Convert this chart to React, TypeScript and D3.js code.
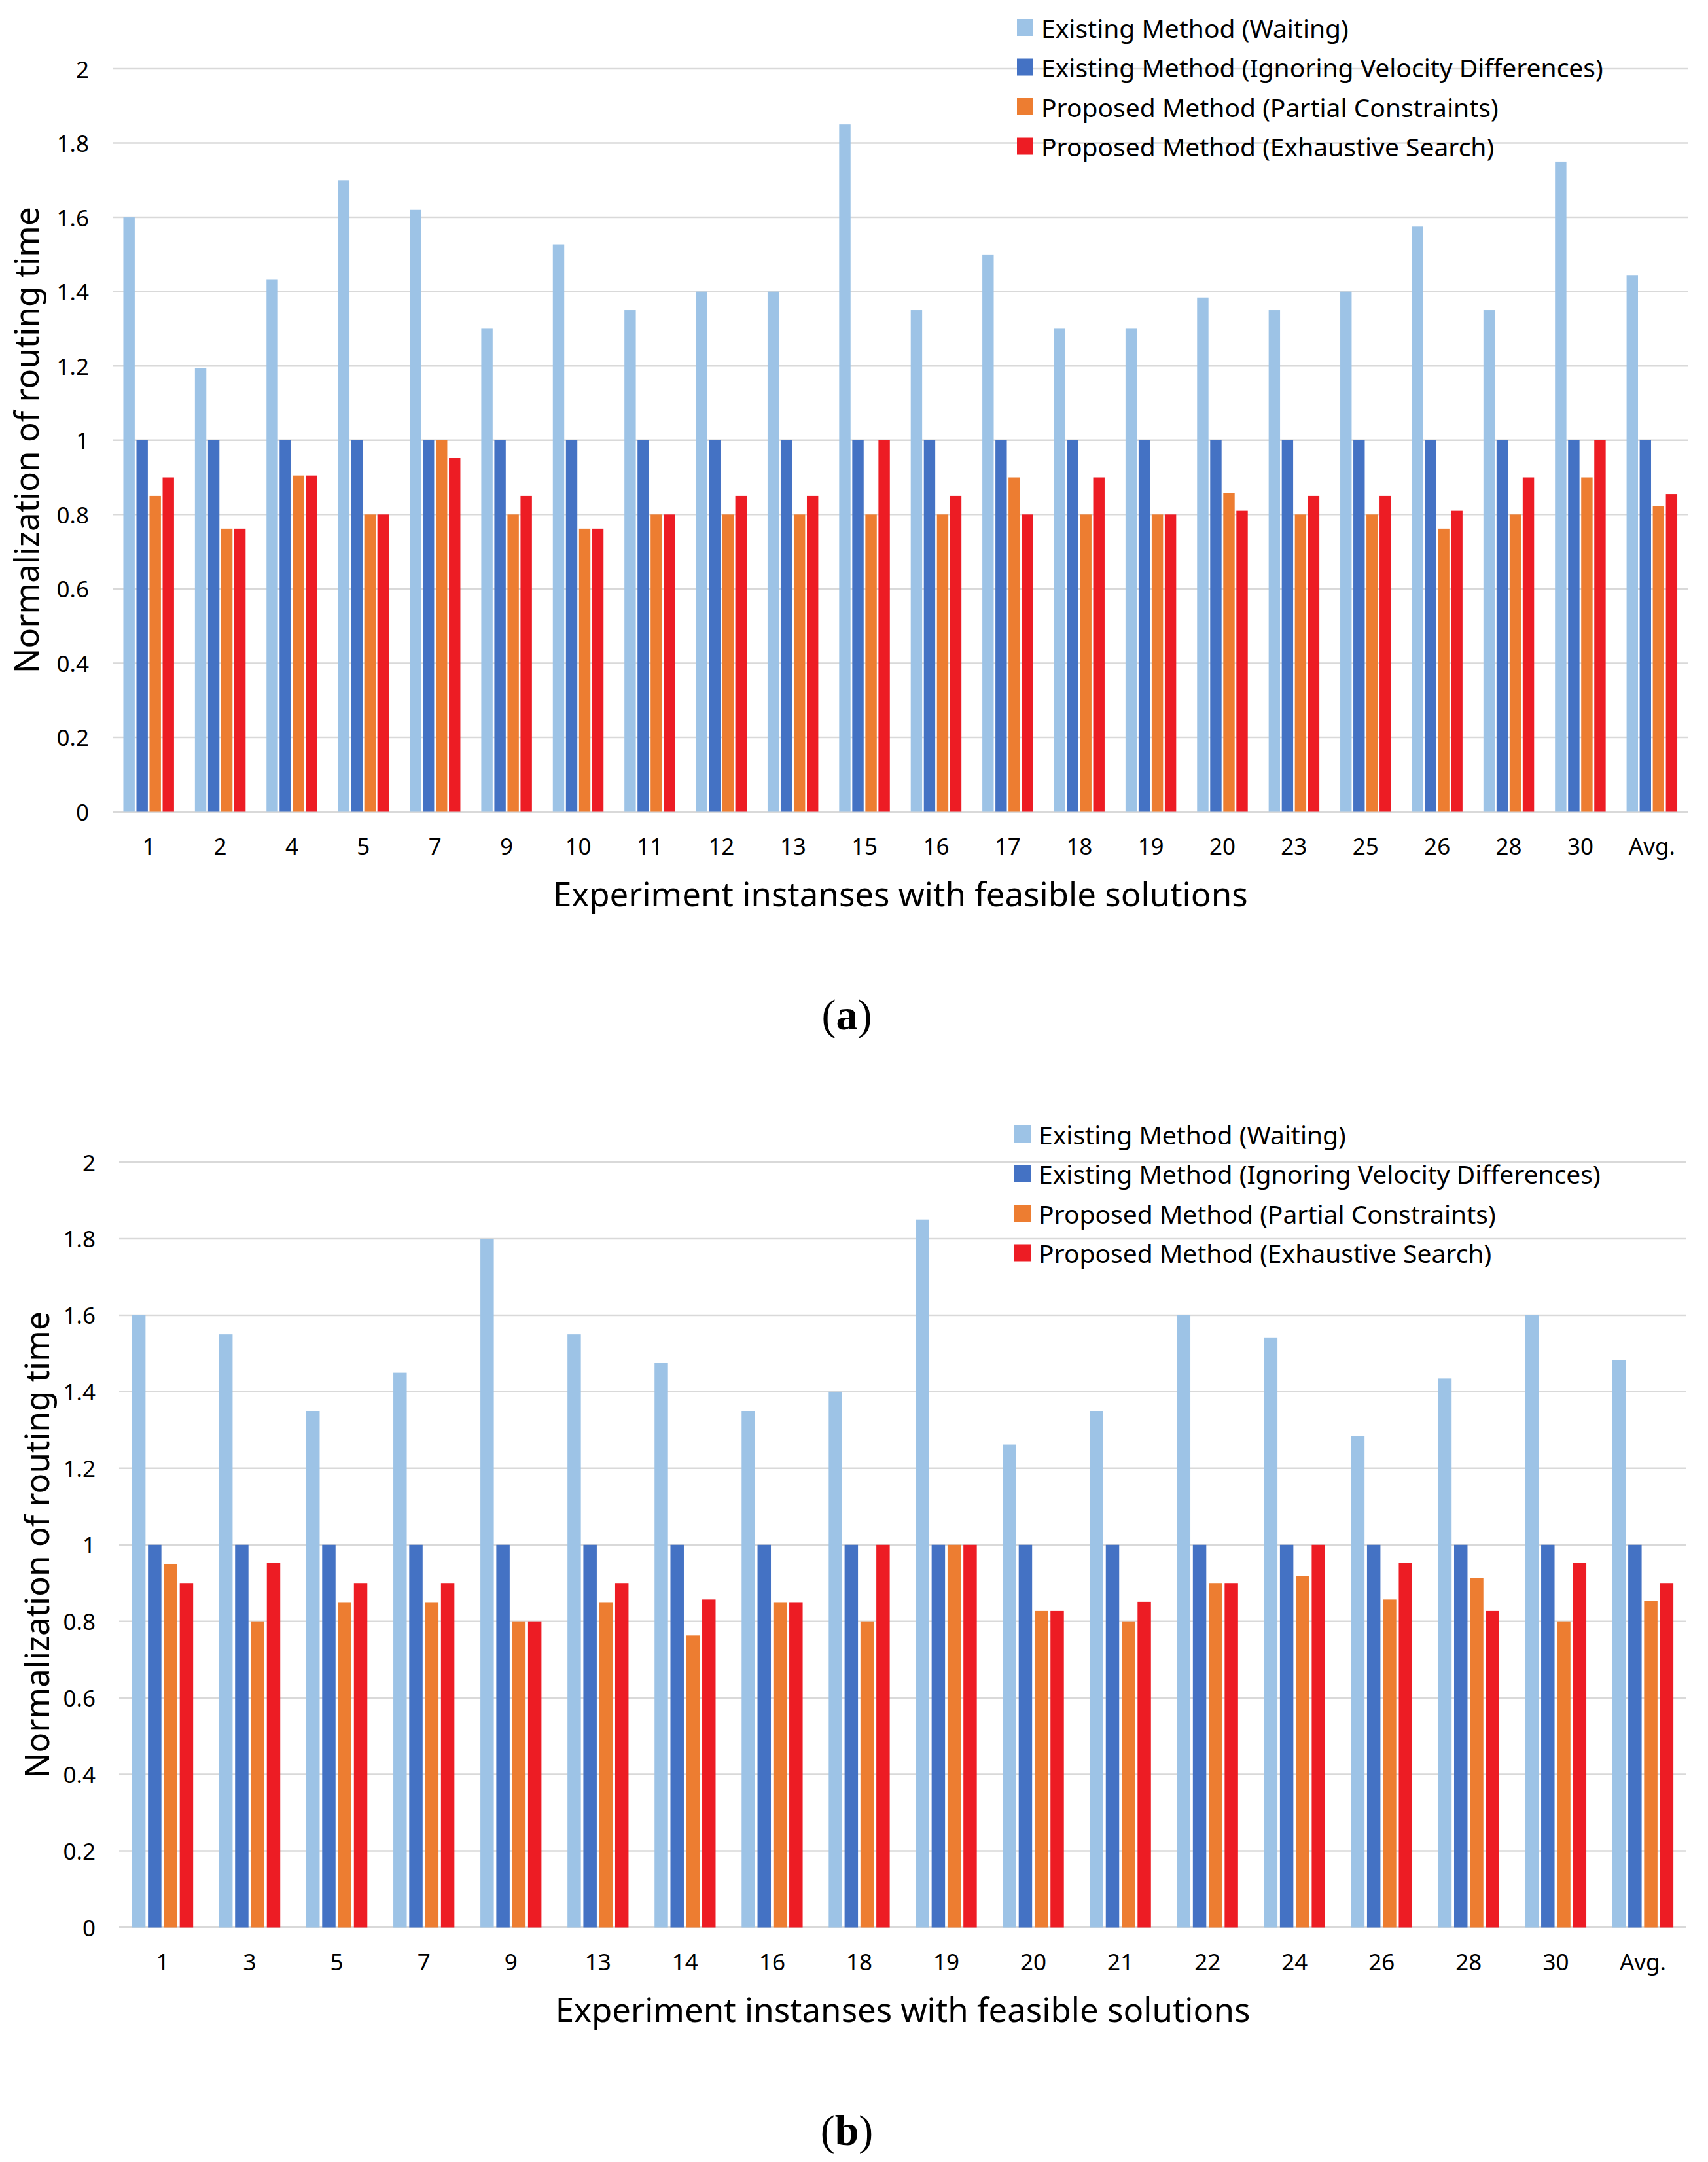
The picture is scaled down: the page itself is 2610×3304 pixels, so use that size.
import React from 'react';
import * as d3 from 'd3';

// ---- data ----
const seriesNames = [
  'Existing Method (Waiting)',
  'Existing Method (Ignoring Velocity Differences)',
  'Proposed Method (Partial Constraints)',
  'Proposed Method (Exhaustive Search)',
];
const seriesColors = ['#9DC3E6', '#4472C4', '#ED7D31', '#ED1C24'];

const yTicks = [0, 0.2, 0.4, 0.6, 0.8, 1, 1.2, 1.4, 1.6, 1.8, 2];

const catsA = ['1', '2', '4', '5', '7', '9', '10', '11', '12', '13', '15', '16', '17', '18', '19', '20', '23', '25', '26', '28', '30', 'Avg.'];
const waitingA = [1.6, 1.194, 1.432, 1.7, 1.62, 1.3, 1.527, 1.35, 1.4, 1.4, 1.85, 1.35, 1.5, 1.3, 1.3, 1.384, 1.35, 1.4, 1.575, 1.35, 1.75, 1.443];
const ignoringA = [1, 1, 1, 1, 1, 1, 1, 1, 1, 1, 1, 1, 1, 1, 1, 1, 1, 1, 1, 1, 1, 1];
const partialA = [0.85, 0.762, 0.905, 0.8, 1.0, 0.8, 0.762, 0.8, 0.8, 0.8, 0.8, 0.8, 0.9, 0.8, 0.8, 0.858, 0.8, 0.8, 0.762, 0.8, 0.9, 0.822];
const exhaustiveA = [0.9, 0.762, 0.905, 0.8, 0.952, 0.85, 0.762, 0.8, 0.85, 0.85, 1.0, 0.85, 0.8, 0.9, 0.8, 0.81, 0.85, 0.85, 0.81, 0.9, 1.0, 0.855];

const catsB = ['1', '3', '5', '7', '9', '13', '14', '16', '18', '19', '20', '21', '22', '24', '26', '28', '30', 'Avg.'];
const waitingB = [1.6, 1.55, 1.35, 1.45, 1.8, 1.55, 1.475, 1.35, 1.4, 1.85, 1.262, 1.35, 1.6, 1.542, 1.285, 1.435, 1.6, 1.482];
const ignoringB = [1, 1, 1, 1, 1, 1, 1, 1, 1, 1, 1, 1, 1, 1, 1, 1, 1, 1];
const partialB = [0.95, 0.8, 0.85, 0.85, 0.8, 0.85, 0.763, 0.85, 0.8, 1.0, 0.827, 0.8, 0.9, 0.918, 0.857, 0.913, 0.8, 0.854];
const exhaustiveB = [0.9, 0.952, 0.9, 0.9, 0.8, 0.9, 0.857, 0.85, 1.0, 1.0, 0.827, 0.851, 0.9, 1.0, 0.953, 0.827, 0.952, 0.9];

const xTitle = 'Experiment instanses with feasible solutions';
const yTitle = 'Normalization of routing time';

const FONT = '"Noto Sans", "Open Sans", sans-serif';
const GRID = '#D9D9D9';

interface Layout {
  left: number;
  right: number;
  top: number;
  bottom: number;
  outerPad: number;
  innerPad: number;
  yLabelX: number;
  xLabelY: number;
  xTitleY: number;
  yTitleX: number;
  legendX: number;
  legendY: number;
  caption: string;
  captionY: number;
}

interface PanelProps {
  cats: string[];
  values: number[][];
  layout: Layout;
}

const Panel: React.FC<PanelProps> = ({ cats, values, layout }) => {
  const L = layout;
  const y = d3.scaleLinear().domain([0, 2]).range([L.bottom, L.top]);
  const x0 = d3.scaleBand<string>()
    .domain(cats)
    .range([L.left, L.right])
    .paddingInner(L.outerPad)
    .paddingOuter(L.outerPad / 2);
  const x1 = d3.scaleBand<number>()
    .domain(d3.range(seriesNames.length))
    .range([0, x0.bandwidth()])
    .paddingInner(L.innerPad);
  const cx = (L.left + L.right) / 2;
  const cy = (L.top + L.bottom) / 2;

  return (
    <g>
      {yTicks.map(t => (
        <g key={t}>
          <line x1={L.left} x2={L.right} y1={y(t)} y2={y(t)} stroke={GRID} strokeWidth={t === 0 ? 3 : 2.5} />
          <text x={L.yLabelX} y={y(t)} textAnchor="end" dominantBaseline="central" fontSize={35} fill="#000">
            {String(t)}
          </text>
        </g>
      ))}
      {cats.map((c, i) => (
        <g key={c}>
          {values.map((s, k) => (
            <rect
              key={k}
              x={(x0(c) as number) + (x1(k) as number)}
              y={y(s[i])}
              width={x1.bandwidth()}
              height={y(0) - y(s[i])}
              fill={seriesColors[k]}
            />
          ))}
          <text x={(x0(c) as number) + x0.bandwidth() / 2} y={L.xLabelY} textAnchor="middle" dominantBaseline="central" fontSize={35}>
            {c}
          </text>
        </g>
      ))}
      <text x={cx} y={L.xTitleY} textAnchor="middle" dominantBaseline="central" fontSize={51}>
        {xTitle}
      </text>
      <text
        transform={`translate(${L.yTitleX},${cy}) rotate(-90)`}
        textAnchor="middle"
        dominantBaseline="central"
        fontSize={51}
      >
        {yTitle}
      </text>
      {seriesNames.map((name, k) => (
        <g key={name} transform={`translate(${L.legendX},${L.legendY + k * 60.5})`}>
          <rect x={0} y={-13} width={25} height={26} fill={seriesColors[k]} />
          <text x={37} y={0} dominantBaseline="central" fontSize={39}>
            {name}
          </text>
        </g>
      ))}
      <text
        x={1294}
        y={L.captionY}
        textAnchor="middle"
        dominantBaseline="central"
        fontSize={66}
        fontFamily='"Liberation Serif", "DejaVu Serif", serif'
      >
        (<tspan fontWeight="bold">{L.caption}</tspan>)
      </text>
    </g>
  );
};

const layoutA: Layout = {
  left: 172.5, right: 2579, top: 105, bottom: 1240.5,
  outerPad: 0.292, innerPad: 0.13,
  yLabelX: 136, xLabelY: 1292, xTitleY: 1365, yTitleX: 39,
  legendX: 1554, legendY: 42,
  caption: 'a', captionY: 1550,
};

const layoutB: Layout = {
  left: 182, right: 2577, top: 1776, bottom: 2945.5,
  outerPad: 0.299, innerPad: 0.156,
  yLabelX: 146, xLabelY: 2997, xTitleY: 3070, yTitleX: 55,
  legendX: 1550, legendY: 1733,
  caption: 'b', captionY: 3255,
};

export default function App() {
  return (
    <svg
      width={2610}
      height={3304}
      style={{ position: 'absolute', left: 0, top: 0, background: '#fff' }}
      fontFamily={FONT}
    >
      <rect width={2610} height={3304} fill="#fff" />
      <Panel cats={catsA} values={[waitingA, ignoringA, partialA, exhaustiveA]} layout={layoutA} />
      <Panel cats={catsB} values={[waitingB, ignoringB, partialB, exhaustiveB]} layout={layoutB} />
    </svg>
  );
}
